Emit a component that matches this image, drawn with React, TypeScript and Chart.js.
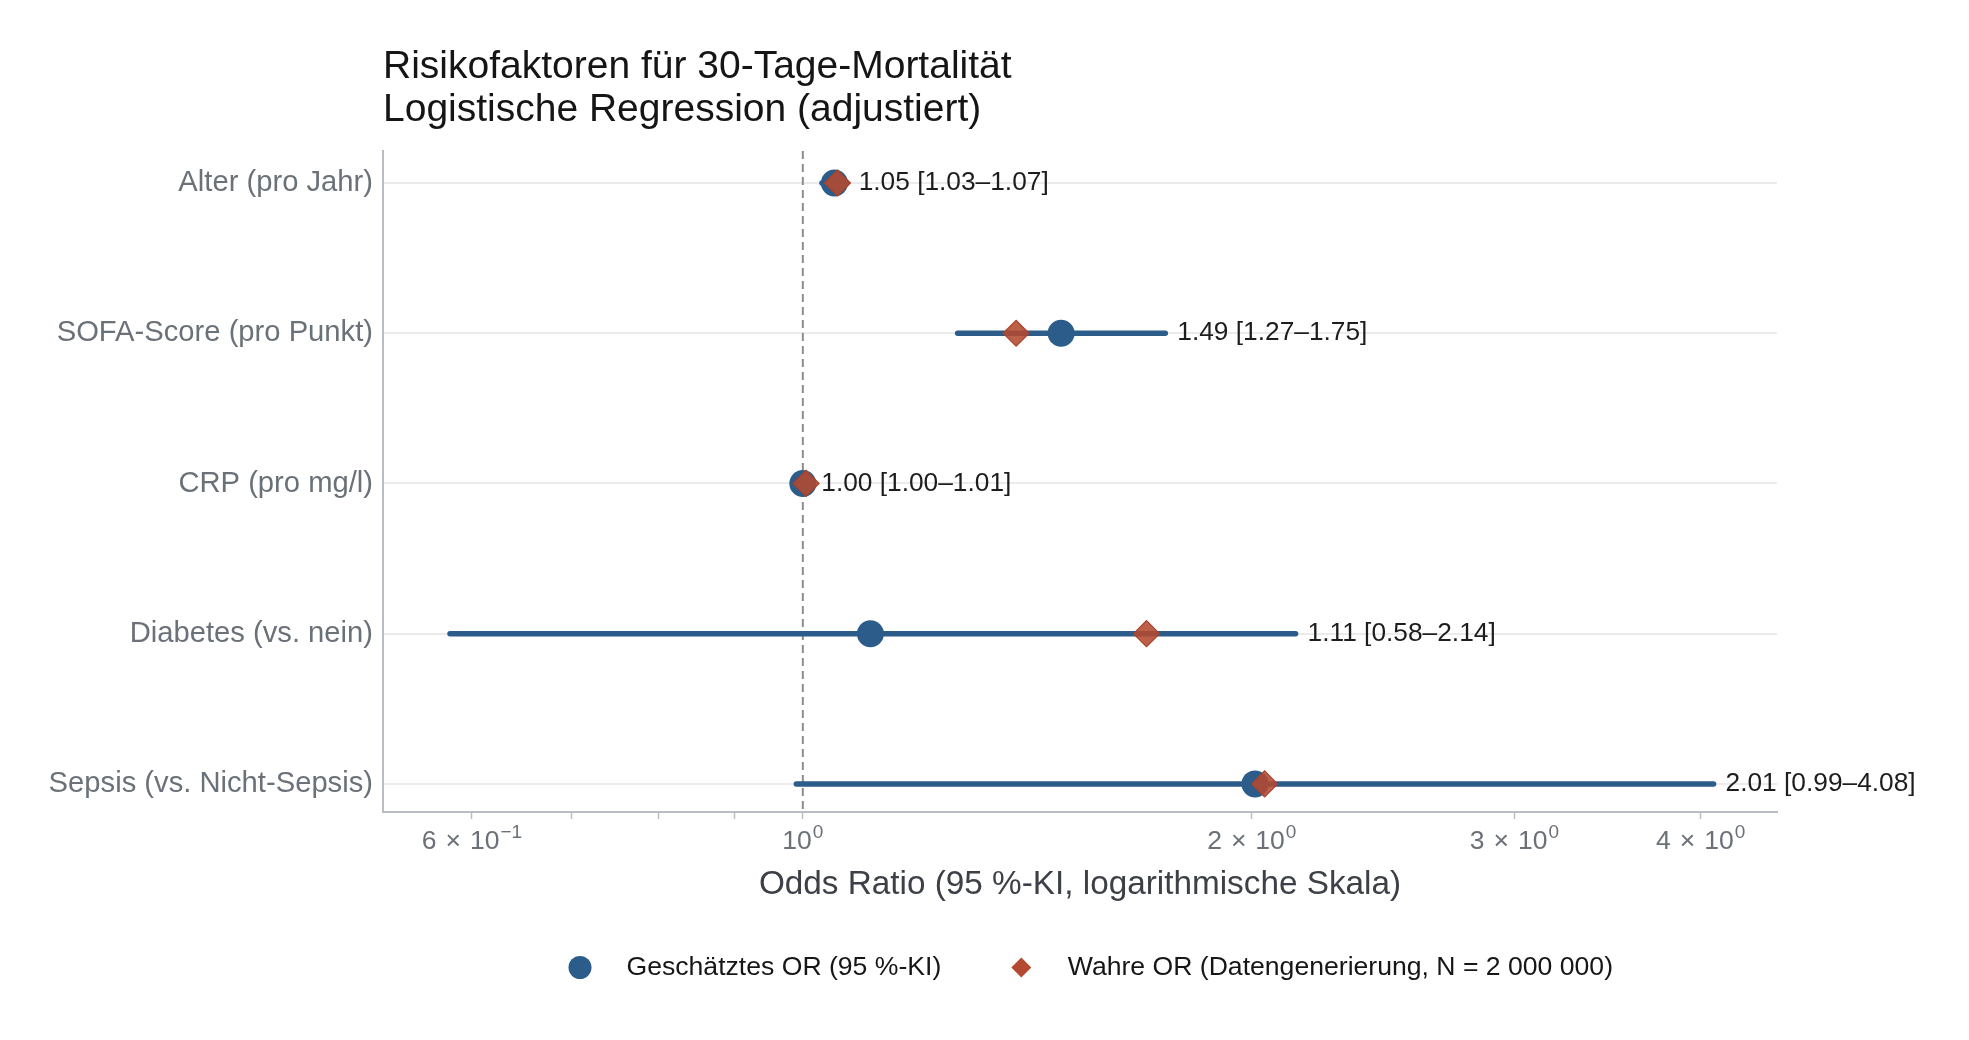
import { useEffect, useRef } from 'react';
import { Chart, registerables } from 'chart.js';

Chart.register(...registerables);

// Predictors (top to bottom) and their odds ratios
const categories = [
  'Alter (pro Jahr)',
  'SOFA-Score (pro Punkt)',
  'CRP (pro mg/l)',
  'Diabetes (vs. nein)',
  'Sepsis (vs. Nicht-Sepsis)',
];
const estimateOR = [1.05, 1.49, 1.0, 1.11, 2.01];
const ciLower = [1.03, 1.27, 1.0, 0.58, 0.99];
const ciUpper = [1.07, 1.75, 1.01, 2.14, 4.08];
const trueOR = [1.055, 1.39, 1.005, 1.7, 2.04];
const referenceOR = 1;

// Log-axis ticks: labelled majors as mantissa × 10^exponent, plus unlabelled minors
const majorTickValues = [0.6, 1, 2, 3, 4];
const majorTickMantissas = ['6', '', '2', '3', '4'];
const majorTickExponents = ['\u22121', '0', '0', '0', '0'];
const minorTickValues = [0.7, 0.8, 0.9];

const titleLines = ['Risikofaktoren für 30-Tage-Mortalität', 'Logistische Regression (adjustiert)'];
const xAxisTitle = 'Odds Ratio (95 %-KI, logarithmische Skala)';
const legendLabels = ['Geschätztes OR (95 %-KI)', 'Wahre OR (Datengenerierung, N = 2 000 000)'];

const FONT = "'Liberation Sans', Arial, Helvetica, sans-serif";
const BLUE = '#2b5c8a';
const RED = '#b34a30';
const AXIS_GREY = '#b9bdc3';
const LABEL_GREY = '#6b7178';

const fmt = (v: number) => v.toFixed(2);

const decorPlugin = {
  id: 'forestDecor',
  beforeDatasetsDraw(chart: any) {
    const { ctx, chartArea, scales } = chart;
    const px = scales.x.getPixelForValue(referenceOR);
    ctx.save();
    ctx.strokeStyle = '#8d8d8d';
    ctx.lineWidth = 2;
    ctx.setLineDash([8, 5]);
    ctx.beginPath();
    ctx.moveTo(px, chartArea.top);
    ctx.lineTo(px, chartArea.bottom);
    ctx.stroke();
    ctx.restore();
  },
  afterDraw(chart: any) {
    const { ctx, chartArea, scales } = chart;
    const xs = scales.x;
    const ys = scales.y;
    ctx.save();

    // Value labels right of each interval
    ctx.font = `26.3px ${FONT}`;
    ctx.fillStyle = '#1d1d1d';
    ctx.textAlign = 'left';
    ctx.textBaseline = 'middle';
    categories.forEach((_, i) => {
      const text = `${fmt(estimateOR[i])} [${fmt(ciLower[i])}\u2013${fmt(ciUpper[i])}]`;
      ctx.fillText(text, xs.getPixelForValue(ciUpper[i]) + 12, ys.getPixelForValue(i));
    });

    // Log-axis tick labels with superscript exponents
    const baseFont = `26.5px ${FONT}`;
    const supFont = `19px ${FONT}`;
    const gap = 9;
    const baseY = chartArea.bottom + 37;
    ctx.fillStyle = LABEL_GREY;
    ctx.textBaseline = 'alphabetic';
    majorTickValues.forEach((v, i) => {
      const m = majorTickMantissas[i];
      const e = majorTickExponents[i];
      ctx.font = baseFont;
      const mW = m ? ctx.measureText(m).width : 0;
      const tW = m ? ctx.measureText('\u00d7').width : 0;
      const tenW = ctx.measureText('10').width;
      ctx.font = supFont;
      const eW = ctx.measureText(e).width;
      const total = (m ? mW + gap + tW + gap : 0) + tenW + 1 + eW;
      let cx = xs.getPixelForValue(v) - total / 2;
      ctx.font = baseFont;
      if (m) {
        ctx.fillText(m, cx, baseY);
        cx += mW + gap;
        ctx.fillText('\u00d7', cx, baseY);
        cx += tW + gap;
      }
      ctx.fillText('10', cx, baseY);
      cx += tenW + 1;
      ctx.font = supFont;
      ctx.fillText(e, cx, baseY - 11);
    });

    // Two-line title aligned with the plot panel
    ctx.font = `39px ${FONT}`;
    ctx.fillStyle = '#151515';
    ctx.fillText(titleLines[0], chartArea.left, 78);
    ctx.fillText(titleLines[1], chartArea.left, 121);

    // Legend
    const ly = 967.5;
    ctx.font = `26.6px ${FONT}`;
    ctx.textBaseline = 'middle';
    let lx = chartArea.left + 197;
    ctx.fillStyle = BLUE;
    ctx.beginPath();
    ctx.arc(lx, ly, 11.5, 0, Math.PI * 2);
    ctx.fill();
    ctx.fillStyle = '#161616';
    ctx.fillText(legendLabels[0], lx + 46.5, ly);
    lx = lx + 46.5 + ctx.measureText(legendLabels[0]).width + 80;
    const h = 10;
    ctx.fillStyle = RED;
    ctx.beginPath();
    ctx.moveTo(lx - h, ly);
    ctx.lineTo(lx, ly - h);
    ctx.lineTo(lx + h, ly);
    ctx.lineTo(lx, ly + h);
    ctx.closePath();
    ctx.fill();
    ctx.fillStyle = '#161616';
    ctx.fillText(legendLabels[1], lx + 46.5, ly);

    ctx.restore();
  },
};

export default function App() {
  const canvasRef = useRef<HTMLCanvasElement | null>(null);

  useEffect(() => {
    const canvas = canvasRef.current;
    if (!canvas) return;

    const ciSets = categories.map((_, i) => ({
      label: `ci-${i}`,
      data: [
        { x: ciLower[i], y: i },
        { x: ciUpper[i], y: i },
      ],
      showLine: true,
      borderColor: BLUE,
      borderWidth: 5.5,
      borderCapStyle: 'round',
      pointRadius: 0,
      order: 3,
    }));

    const chart = new Chart(canvas, {
      type: 'scatter',
      data: {
        datasets: [
          {
            label: legendLabels[1],
            data: trueOR.map((v, i) => ({ x: v, y: i })),
            pointStyle: 'rectRot',
            pointRadius: 13,
            backgroundColor: 'rgba(180, 74, 48, 0.88)',
            borderColor: '#a9432b',
            borderWidth: 1.2,
            order: 1,
          },
          {
            label: legendLabels[0],
            data: estimateOR.map((v, i) => ({ x: v, y: i })),
            pointStyle: 'circle',
            pointRadius: 13.5,
            backgroundColor: BLUE,
            borderWidth: 0,
            order: 2,
          },
          ...ciSets,
        ] as any,
      },
      options: {
        animation: false,
        responsive: true,
        maintainAspectRatio: false,
        events: [],
        layout: { padding: { top: 151, right: 192, bottom: 135, left: 0 } },
        plugins: {
          legend: { display: false },
          title: { display: false },
          tooltip: { enabled: false },
        },
        scales: {
          x: {
            type: 'logarithmic',
            min: 0.523,
            max: 4.5,
            afterBuildTicks: (s: any) => {
              s.ticks = [...minorTickValues, ...majorTickValues]
                .sort((a, b) => a - b)
                .map((v) => ({ value: v }));
            },
            afterFit: (s: any) => {
              s.height = 93;
            },
            ticks: { autoSkip: false, maxRotation: 0, callback: () => '' },
            grid: {
              drawOnChartArea: false,
              drawTicks: true,
              tickLength: 7,
              tickColor: AXIS_GREY,
              tickWidth: 1.5,
            },
            border: { display: true, color: AXIS_GREY, width: 2 },
            title: {
              display: true,
              text: xAxisTitle,
              font: { family: FONT, size: 33.3 },
              color: '#3d4147',
              padding: { top: 0, bottom: 0 },
            },
          },
          y: {
            type: 'linear',
            min: -0.213,
            max: 4.187,
            reverse: true,
            afterBuildTicks: (s: any) => {
              s.ticks = categories.map((_, i) => ({ value: i }));
            },
            afterFit: (s: any) => {
              s.width = 383;
            },
            ticks: {
              autoSkip: false,
              padding: 10,
              font: { family: FONT, size: 29.2 },
              color: LABEL_GREY,
              callback: (v: any) => categories[Number(v)] ?? '',
            },
            grid: { color: '#ebebeb', lineWidth: 2, drawTicks: false },
            border: { display: true, color: AXIS_GREY, width: 2 },
          },
        },
      } as any,
      plugins: [decorPlugin],
    });

    return () => chart.destroy();
  }, []);

  return (
    <div
      style={{
        position: 'fixed',
        left: 0,
        top: 0,
        width: 1969,
        height: 1040,
        background: '#ffffff',
      }}
    >
      <canvas ref={canvasRef} />
    </div>
  );
}
